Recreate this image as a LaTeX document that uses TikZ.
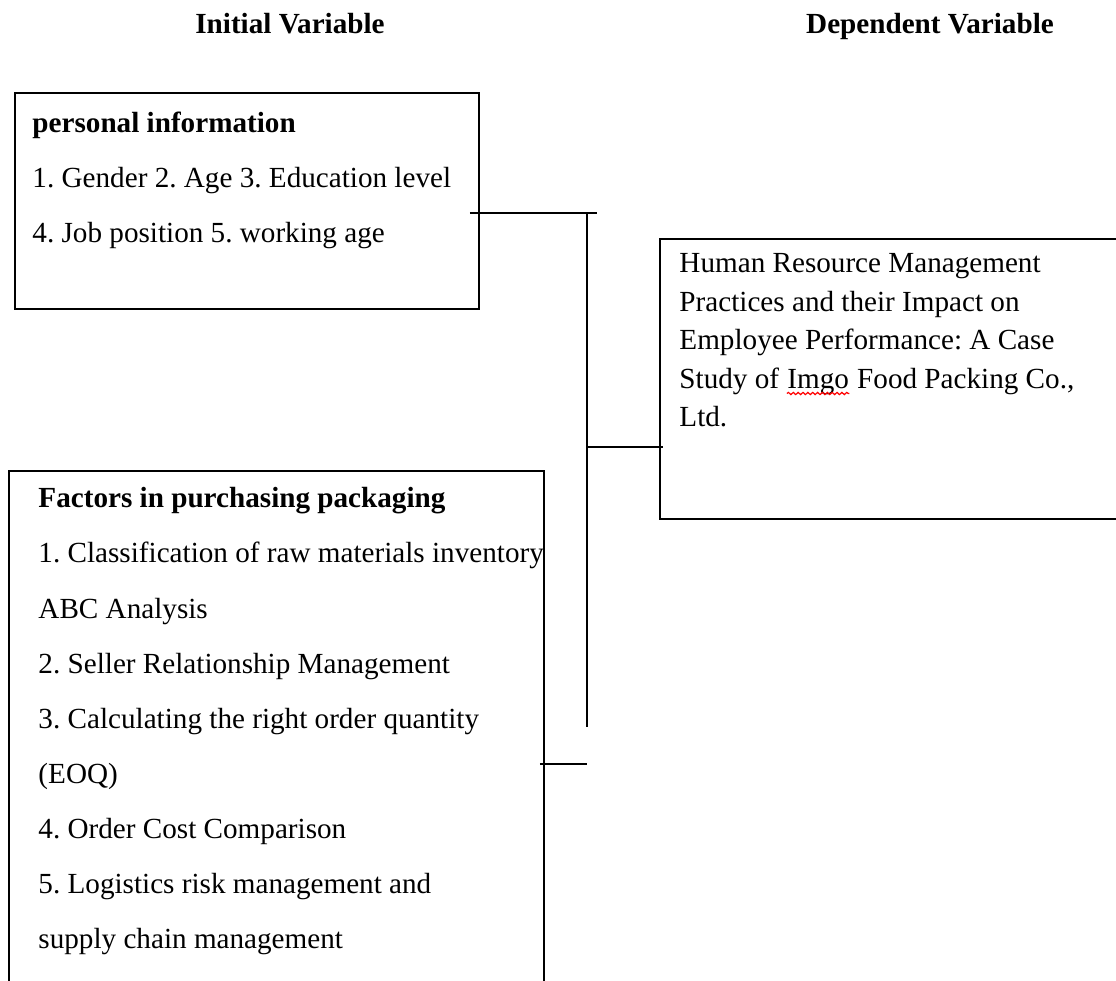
\documentclass[tikz,border=0pt]{standalone}
\usepackage{fontspec}
\setmainfont{Liberation Serif}
\frenchspacing
\usetikzlibrary{positioning,calc,decorations.pathmorphing}

\tikzset{
  box/.style={draw, line width=0.8pt, inner sep=0pt, anchor=north west},
  item/.style={font=\fontsize{12}{14}\selectfont, inner sep=0pt, anchor=base west},
  head/.style={font=\bfseries\fontsize{12}{14}\selectfont, inner sep=0pt, anchor=base},
  link/.style={line width=0.8pt},
  spellmark/.style={red, line width=0.5pt, decorate,
    decoration={snake, amplitude=0.45pt, segment length=2pt}}
}

\begin{document}
\begin{tikzpicture}[x=0.4115pt, y=-0.4115pt]
\useasboundingbox (0,0) rectangle (1116,981);
\clip (0,0) rectangle (1116,981);

% Headings
\node[head] (hinit) at (290,34) {Initial Variable};
\node[head] (hdep) at (930,34) {Dependent Variable};

% Boxes
\node[box, minimum width=464*0.4115pt, minimum height=216*0.4115pt] (personal) at (14,92) {};
\node[box, minimum width=535*0.4115pt, minimum height=560*0.4115pt] (factors) at (8,470) {};
\node[box, minimum width=480*0.4115pt, minimum height=280*0.4115pt] (outcome) at (659,238) {};

% Personal information
\foreach \txt [count=\k from 0] in {
    {\bfseries personal information},
    {1. Gender 2. Age 3. Education level},
    {4. Job position 5. working age}} {
  \node[item] (p\k) at (32,133+55*\k) {\txt};
}

% Purchasing factors
\foreach \txt [count=\k from 0] in {
    {\bfseries Factors in purchasing packaging},
    {1. Classification of raw materials inventory},
    {ABC Analysis},
    {2. Seller Relationship Management},
    {3. Calculating the right order quantity},
    {(EOQ)},
    {4. Order Cost Comparison},
    {5. Logistics risk management and},
    {supply chain management}} {
  \node[item] (f\k) at (38,508+55*\k) {\txt};
}

% Dependent variable
\foreach \txt [count=\k from 0] in {
    {Human Resource Management},
    {Practices and their Impact on},
    {Employee Performance: A Case}} {
  \node[item] (d\k) at (679,273+38.5*\k) {\txt};
}
\node[item] (d3) at (679,388.5) {Study of};
\node[item] (imgo) at ($(d3.base east)+(7.3,0)$) {Imgo};
\node[item] (d3b) at ($(imgo.base east)+(7.3,0)$) {Food Packing Co.,};
\node[item] (d4) at (679,427) {Ltd.};
\draw[spellmark] ($(imgo.base west)+(0,5)$) -- ($(imgo.base east)+(0,5)$);

% Connectors
\coordinate (jt) at (587,213);
\coordinate (jm) at (587,447);
\coordinate (jb) at (587,727);
\coordinate (jl) at (587,764);
\draw[link] ($(personal.east |- jt)+(-10,0)$) -- ($(jt)+(10,0)$);
\draw[link] (jt) -- (jb);
\draw[link] (jm) -- ($(outcome.west |- jm)+(4,0)$);
\draw[link] ($(factors.east |- jl)+(-5,0)$) -- (jl);

\end{tikzpicture}
\end{document}
